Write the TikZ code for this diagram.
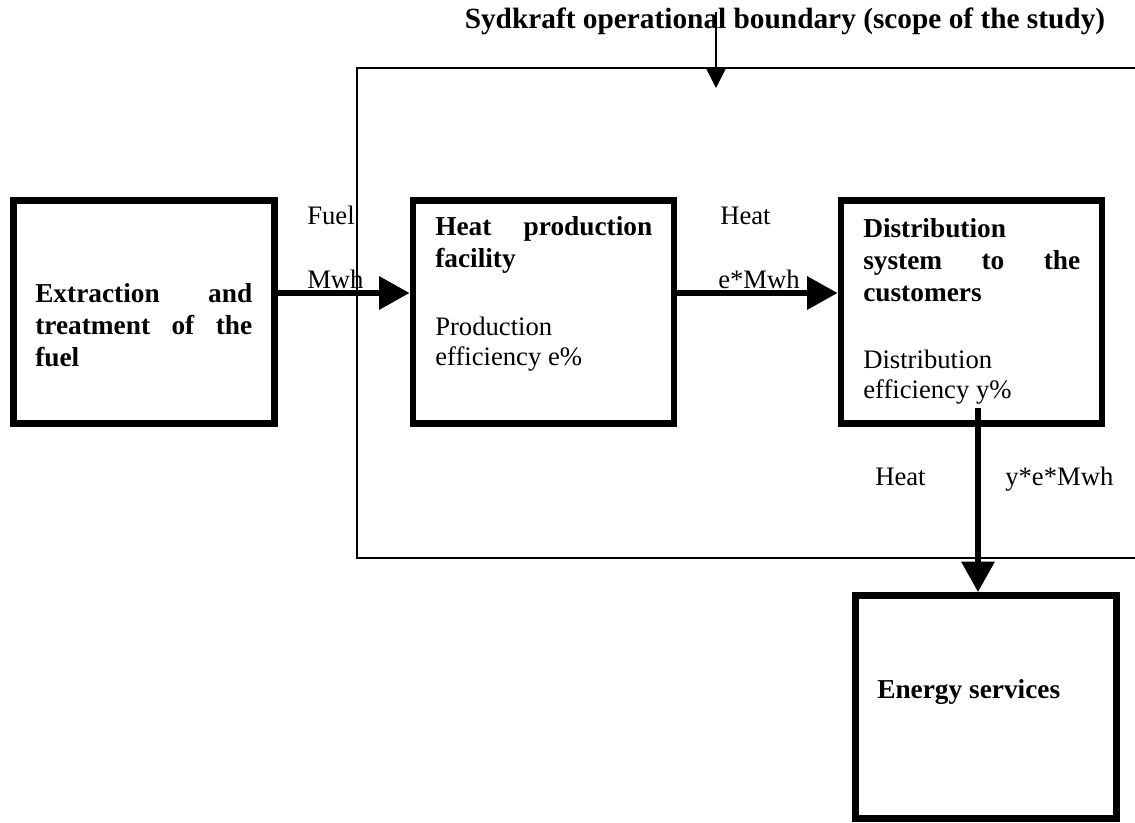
\documentclass[tikz,border=0pt]{standalone}
\usepackage{fontspec}
\setmainfont{Liberation Serif}
\usetikzlibrary{arrows.meta}

% one unit = one pixel of the 1135 x 822 canvas (0.75pt), y grows downwards
\tikzset{
  stage/.style={draw, line width=5pt, minimum width=195.75pt,
    minimum height=167.25pt, inner sep=0pt},
  flow/.style={line width=5pt, -{Triangle[length=23pt,width=24pt]}},
  bound/.style={line width=1.1pt},
  pointer/.style={line width=1.1pt, -{Triangle[length=15pt,width=15pt]}},
  blockhead/.style={anchor=base west, inner sep=0pt,
    font=\fontsize{20.5}{24}\selectfont\bfseries},
  blocknote/.style={anchor=base west, inner sep=0pt,
    font=\fontsize{20}{23}\selectfont},
  flowlabel/.style={anchor=base west, inner sep=0pt,
    font=\fontsize{20}{24}\selectfont},
  heading/.style={anchor=base, inner sep=0pt,
    font=\fontsize{22}{26}\selectfont\bfseries},
}
\newcommand{\fullline}[1]{\makebox[162.75pt][s]{#1}}

\begin{document}
\begin{tikzpicture}[x=0.75pt, y=-0.75pt]
  \useasboundingbox (0,0) rectangle (1135,822);

  % operational boundary, open towards the right
  \coordinate (bTR) at (1135,68);
  \coordinate (bTL) at (357,68);
  \coordinate (bBL) at (357,558);
  \coordinate (bBR) at (1135,558);
  \draw[bound] (bTR) -- (bTL) -- (bBL) -- (bBR);

  % heading and its pointer onto the boundary
  \node[heading] (title) at (785,28) {Sydkraft operational boundary (scope of the study)};
  \coordinate (ptrtop) at (716,12);
  \coordinate (ptrtip) at (716,88);
  \draw[pointer] (ptrtop) -- (ptrtip);

  % stages of the chain
  \node[stage] (extract) at (144,312) {};
  \node[stage] (heat)    at (543.5,312) {};
  \node[stage] (dist)    at (971.5,312) {};
  \node[stage] (energy)  at (986,707) {};

  % texts inside the stages
  \node[blockhead] (extract-text) at (35,302)
    {\parbox[t]{162.75pt}{\fullline{Extraction and}\\\fullline{treatment of the}\\fuel}};
  \node[blockhead] (heat-text) at (435,235)
    {\parbox[t]{162.75pt}{\fullline{Heat production}\\facility}};
  \node[blocknote] (heat-eff) at (435,335)
    {\parbox[t]{162.75pt}{Production\\efficiency e\%}};
  \node[blockhead] (dist-text) at (863,237)
    {\parbox[t]{162.75pt}{Distribution\\\fullline{system to the}\\customers}};
  \node[blocknote] (dist-eff) at (863,368)
    {\parbox[t]{162.75pt}{Distribution\\efficiency y\%}};
  \node[blockhead] (energy-text) at (877,698) {Energy services};

  % energy flows
  \coordinate (flowrow) at (0,293);
  \draw[flow] (extract.east |- flowrow) -- (heat.west |- flowrow);
  \draw[flow] (heat.east |- flowrow) -- (dist.west |- flowrow);
  \coordinate (dropstart) at (978,408);
  \draw[flow] (dropstart) -- (dropstart |- energy.north);

  % flow labels
  \node[flowlabel] (fuel-name)  at (307,224) {Fuel};
  \node[flowlabel] (fuel-qty)   at (307,288) {Mwh};
  \node[flowlabel] (heat-name)  at (720,224) {Heat};
  \node[flowlabel] (heat-qty)   at (718,288) {e*Mwh};
  \node[flowlabel] (out-name)   at (875,485) {Heat};
  \node[flowlabel] (out-qty)    at (1005,485) {y*e*Mwh};
\end{tikzpicture}
\end{document}
